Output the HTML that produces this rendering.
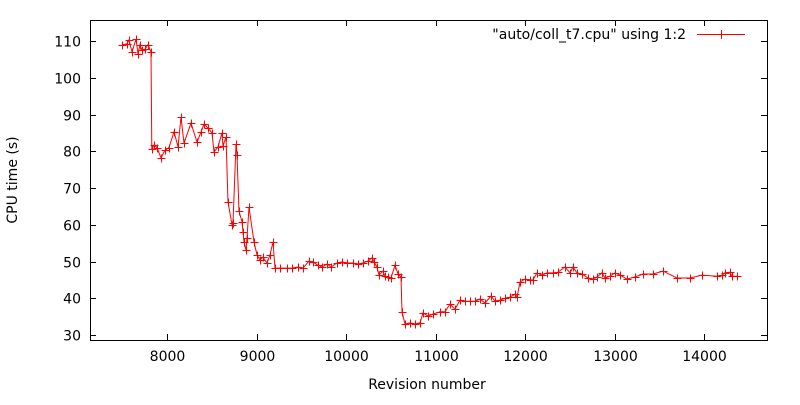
<!DOCTYPE html>
<html><head><meta charset="utf-8"><style>
body{margin:0;background:#fff}
svg{font-family:"DejaVu Sans","Liberation Sans",sans-serif;font-size:14px}
</style></head><body>
<svg id="chart" width="800" height="400">
<rect width="800" height="400" fill="#fff"/>
<g id="axes" shape-rendering="crispEdges"></g>
<g id="series"></g>
<text x="427" y="389" text-anchor="middle">Revision number</text>
<text transform="translate(17,180) rotate(-90)" text-anchor="middle">CPU time (s)</text>
<g shape-rendering="crispEdges">
<text x="686" y="39" text-anchor="end">"auto/coll_t7.cpu" using 1:2</text>
<line x1="697" y1="34.5" x2="745" y2="34.5" stroke="#f00"/>
<path d="M717,34.5h8M721.5,30v9" stroke="#f00"/>
</g>
</svg>
<script>
const revisions=[7497,7553,7575,7609,7654,7676,7698,7720,7754,7788,7821,7830,7855,7888,7933,7978,8022,8078,8123,8156,8190,8268,8335,8380,8413,8458,8503,8525,8570,8615,8626,8659,8682,8726,8737,8771,8782,8804,8838,8849,8860,8883,8894,8916,8972,9006,9039,9073,9117,9151,9184,9207,9263,9341,9397,9464,9520,9587,9631,9687,9732,9788,9832,9899,9955,10011,10078,10134,10190,10246,10291,10313,10346,10369,10413,10436,10469,10503,10547,10581,10614,10626,10659,10715,10771,10827,10860,10916,10972,11050,11106,11162,11218,11274,11330,11385,11441,11497,11553,11620,11665,11721,11776,11832,11888,11911,11944,11999,12055,12089,12134,12190,12245,12313,12369,12447,12503,12536,12581,12637,12704,12760,12804,12860,12894,12950,13006,13061,13140,13229,13318,13430,13542,13698,13844,13978,14145,14201,14235,14291,14313,14369];
const cpuTimes=[108.9,109.2,110.3,107,110.5,106.5,109,107.5,107.8,109,107,80.5,81.7,81,78.2,80.3,81,85.3,81.2,89.3,82.2,87.7,82.5,85.2,87.4,86.3,85,79.8,81.2,85,81.4,83.9,66.2,60,60.5,82,79,63.7,60.8,58,55.3,53.1,56.4,64.8,55.3,51.8,50.4,51.2,49.6,51.8,55.3,48.2,48.2,48.2,48.2,48.5,48.2,50.1,49.8,49,48.5,49.3,48.5,49.6,49.9,49.6,49.6,49.3,49.6,50.1,51,49.9,48.5,46.3,47.4,46,45.8,45.5,49,46.6,45.8,36.3,33,33.3,33,33.3,36,35.2,35.7,36.3,36.3,38.4,37,39.5,39.2,39.2,39.2,39.8,38.7,40.6,39.2,39.5,40,40.3,41.1,40.3,44.4,45.2,45,45,46.9,46.3,46.9,46.9,47.1,48.5,46.9,48.5,46.9,46.6,45.5,45.2,45.8,46.9,45.5,46,46.9,46.3,45.2,45.8,46.6,46.6,47.4,45.5,45.5,46.3,46,46.3,46.9,47.1,46,46];
const xTicks=[8000,9000,10000,11000,12000,13000,14000];
const yTicks=[30,40,50,60,70,80,90,100,110];
const L=90,R=767,T=20,B=340;
function xs(v){return 167+(v-8000)*0.0895;}
function ys(v){return 335-(v-30)*3.675;}
const NS="http://www.w3.org/2000/svg";
const ax=document.getElementById('axes');
function mk(tag,attrs,parent){const e=document.createElementNS(NS,tag);for(const k in attrs)e.setAttribute(k,attrs[k]);parent.appendChild(e);return e;}
const frame=mk('rect',{x:L+.5,y:T+.5,width:R-L,height:B-T,fill:'none',stroke:'#000'},ax);


xTicks.forEach(v=>{const x=Math.round(xs(v))+.5;
 const t=mk('path',{d:`M${x},${B}v-6M${x},${T}v6`,stroke:'#000'},ax);
 
 
 const l=mk('text',{x:x,y:361,'text-anchor':'middle'},ax);l.textContent=v;
 
 });
yTicks.forEach(v=>{const y=Math.round(ys(v))+.5;
 const t=mk('path',{d:`M${L},${y}h6M${R},${y}h-6`,stroke:'#000'},ax);
 
 
 const l=mk('text',{x:81,y:y+5,'text-anchor':'end'},ax);l.textContent=v;
 
 });
const sg=document.getElementById('series');
let d='';revisions.forEach((r,i)=>{d+=(i?'L':'M')+xs(r).toFixed(1)+','+ys(cpuTimes[i]).toFixed(1);});
const line=mk('path',{d:d,fill:'none',stroke:'#f00'},sg);


revisions.forEach((r,i)=>{const x=Math.round(xs(r))+.5,y=Math.round(ys(cpuTimes[i]))+.5;
 const p=mk('path',{d:`M${x-4},${y}h8M${x},${y-4}v8`,stroke:'#f00','shape-rendering':'crispEdges'},sg);
 
 });
</script>
</body></html>
